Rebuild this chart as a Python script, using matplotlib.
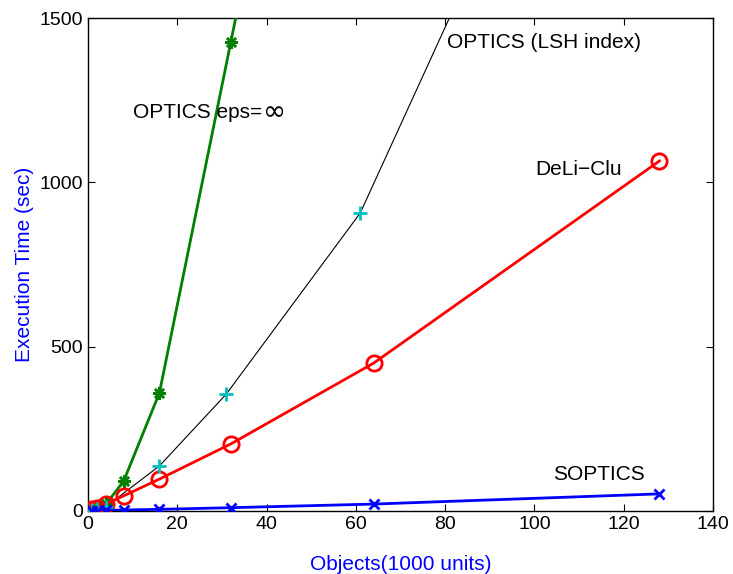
import matplotlib
matplotlib.use("Agg")
import matplotlib.pyplot as plt

plt.rcParams['font.family'] = ['Liberation Sans', 'DejaVu Sans']

# Data
soptics_x = [1, 2, 4, 8, 16, 32, 64, 128]
soptics_y = [0.5, 1, 2, 3, 5, 10, 21, 52]

deliclu_x = [1, 2, 4, 8, 16, 32, 64, 128]
deliclu_y = [5, 10, 22, 46, 97, 204, 450, 1065]

lsh_x = [1, 2, 4, 16, 31, 61, 122]
lsh_y = [2, 5, 13, 137, 356, 907, 2720]

inf_x = [1, 2, 4, 8, 16, 32, 64]
inf_y = [3, 8, 20, 91, 359, 1427, 3560]

xticks = [0, 20, 40, 60, 80, 100, 120, 140]
yticks = [0, 500, 1000, 1500]

fig = plt.figure(figsize=(7.33, 5.74), dpi=100)
ax = fig.add_axes([0.120, 0.1098, 0.8527, 0.8588])

ax.plot(lsh_x, lsh_y, color='black', lw=0.8, zorder=2)
ax.plot(lsh_x, lsh_y, ls='none', marker='+', ms=10, mew=2, color='#00bfbf', zorder=5)
ax.plot(inf_x, inf_y, color='#008000', lw=2, marker=(8, 2, 0), ms=9, mew=1.8, zorder=3)
ax.plot(deliclu_x, deliclu_y, color='red', lw=2, marker='o', ms=11, mew=2,
        mfc='none', zorder=4)
ax.plot(soptics_x, soptics_y, color='blue', lw=2, marker='x', ms=7, mew=2, zorder=6)

ax.set_xlim(0, 140)
ax.set_ylim(0, 1500)
ax.set_xticks(xticks)
ax.set_yticks(yticks)
ax.tick_params(direction='in', top=True, right=True, labelsize=14, length=5, width=0.8)
for s in ax.spines.values():
    s.set_linewidth(1.0)

ax.set_xlabel('Objects(1000 units)', color='blue', fontsize=15, labelpad=16)
ax.set_ylabel('Execution Time (sec)', color='blue', fontsize=15, labelpad=4)

t = ax.text(10.1, 1211, 'OPTICS eps=', fontsize=15, va='center', ha='left')
ax.text(80.4, 1424, 'OPTICS (LSH index)', fontsize=15, va='center', ha='left')
ax.text(100.1, 1040, 'DeLi\u2212Clu', fontsize=15, va='center', ha='left')
ax.text(104.2, 110, 'SOPTICS', fontsize=15, va='center', ha='left')

fig.canvas.draw()
bb = t.get_window_extent()
ax.annotate('\u221e', xy=(bb.x1 + 1, (bb.y0 + bb.y1) / 2 + 1), xycoords='figure pixels',
            fontsize=20, family='DejaVu Sans', va='center', ha='left')

fig.savefig('out.png', dpi=100)
